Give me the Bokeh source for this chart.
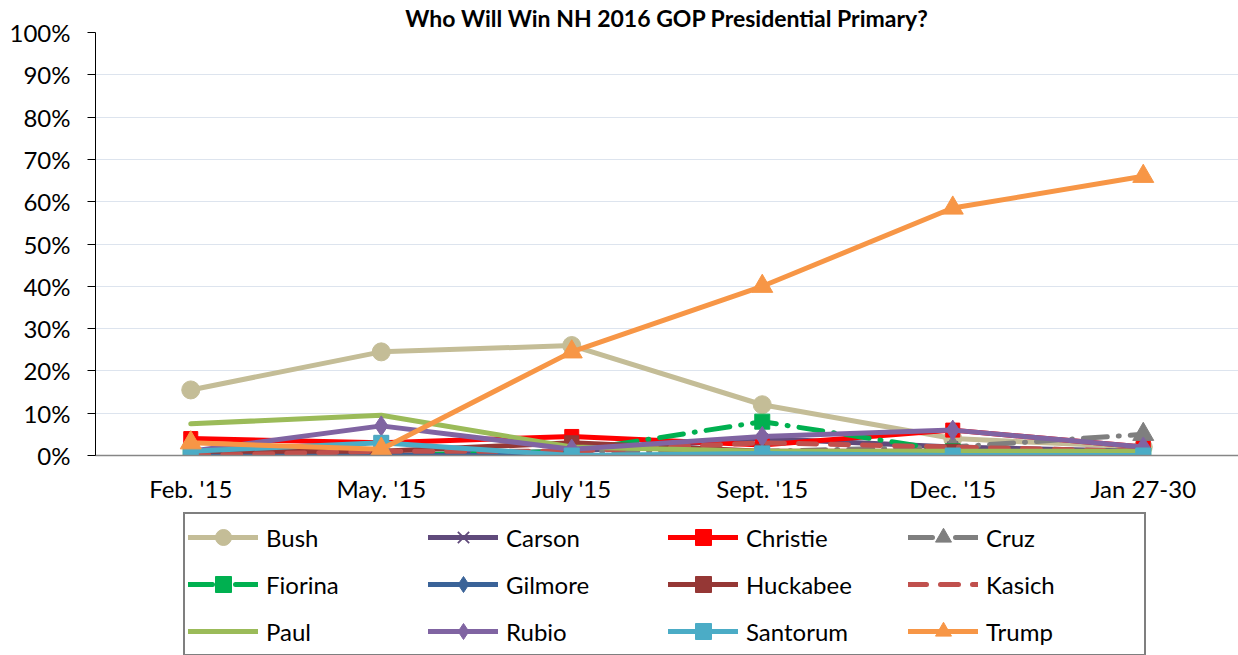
from bokeh.plotting import figure
from bokeh.layouts import column
from bokeh.models import (FactorRange, Range1d, Legend, LegendItem, PrintfTickFormatter,
                          FixedTicker)
from bokeh.embed import file_html
from bokeh.resources import INLINE

categories = ["Feb. '15", "May. '15", "July '15", "Sept. '15", "Dec. '15", "Jan 27-30"]

bush = [15.5, 24.5, 26, 12, 4, 2]
carson = [1, 0, 1, 4, 2, 1]
christie = [4, 3, 4.5, 2.5, 6, 2]
cruz = [0, 0, 1, 1, 2, 5]
fiorina = [0, 0, 1, 8, 1, 0]
gilmore = [0, 0, 0, 0, 0, 0]
huckabee = [1, 1, 3, 1, 1, 0]
kasich = [0, 1, 1, 3, 2, 1]
paul = [7.5, 9.5, 2, 1, 1, 1]
rubio = [1, 7, 1.5, 4.5, 6, 2]
santorum = [1, 3, 0, 0.5, 0, 0]
trump = [3, 1.5, 24.5, 40, 58.5, 66]

y_ticks = list(range(0, 101, 10))

FONT = "Lato"

series = [
    ("Bush", bush, "#C4BD97", "solid", "circle", 18),
    ("Carson", carson, "#604A7B", "solid", "x", 15),
    ("Christie", christie, "#FF0000", "solid", "square", 14),
    ("Cruz", cruz, "#7F7F7F", "24 11 1 11", "triangle", 21),
    ("Fiorina", fiorina, "#00B050", "24 11 1 11", "square", 15),
    ("Gilmore", gilmore, "#3A6398", "solid", "diamond", 20),
    ("Huckabee", huckabee, "#953735", "solid", "square", 14),
    ("Kasich", kasich, "#C0504D", "18 14", None, 0),
    ("Paul", paul, "#9BBB59", "solid", None, 0),
    ("Rubio", rubio, "#8064A2", "solid", "diamond", 20),
    ("Santorum", santorum, "#4BACC6", "solid", "square", 15),
    ("Trump", trump, "#F79646", "solid", "triangle", 21),
]

xr = FactorRange(*categories, range_padding=0)

p = figure(width=1238, height=512, x_range=xr,
           y_range=Range1d(0, 100), output_backend="svg", toolbar_location=None,
           min_border_left=95, min_border_right=0, min_border_top=0, min_border_bottom=57)
p.outline_line_color = None
p.background_fill_color = "white"

p.title.text = "Who Will Win NH 2016 GOP Presidential Primary?"
p.title.align = "center"
p.title.text_font = FONT
p.title.text_font_size = "23px"
p.title.text_font_style = "bold"
p.title.text_color = "black"
p.title.standoff = 2

p.yaxis.ticker = FixedTicker(ticks=y_ticks)
p.yaxis.formatter = PrintfTickFormatter(format="%d%%")
p.yaxis.major_label_text_font = FONT
p.yaxis.major_label_text_font_size = "24px"
p.yaxis.major_label_text_color = "black"
p.yaxis.axis_line_color = "black"
p.yaxis.major_tick_line_color = "black"
p.yaxis.major_tick_in = 0
p.yaxis.major_tick_out = 8
p.yaxis.minor_tick_line_color = None
p.yaxis.major_label_standoff = 17

p.xaxis.major_label_text_font = FONT
p.xaxis.major_label_text_font_size = "24px"
p.xaxis.major_label_text_color = "black"
p.xaxis.axis_line_color = "#868686"
p.xaxis.axis_line_width = 1.5
p.xaxis.major_tick_line_color = None
p.xaxis.major_tick_out = 0
p.xaxis.major_label_standoff = 18

p.xgrid.grid_line_color = None
p.ygrid.grid_line_color = "#DDE4EE"
p.ygrid.grid_line_width = 1

# legend panel below the chart
q = figure(width=1238, height=143, x_range=xr, y_range=Range1d(-10, -5),
           output_backend="svg", toolbar_location=None,
           x_axis_location=None, y_axis_location=None,
           min_border_left=0, min_border_right=0, min_border_top=0, min_border_bottom=0)
q.outline_line_color = None
q.grid.visible = False


def draw(fig, name, vals, color, dash, marker, size):
    rs = [fig.line(categories, vals, line_color=color, line_width=5, line_dash=dash,
                   line_cap="round", line_join="round")]
    if marker is not None:
        if marker == "x":
            rs.append(fig.scatter(categories, vals, marker="x", size=size,
                                  line_color=color, line_width=1.8))
        else:
            rs.append(fig.scatter(categories, vals, marker=marker, size=size,
                                  fill_color=color, line_color=color, line_width=1))
    return rs


items = []
for name, vals, color, dash, marker, size in series:
    draw(p, name, vals, color, dash, marker, size)
    rs = draw(q, name, vals, color, dash, marker, size)
    items.append(LegendItem(label=name, renderers=rs))

legend = Legend(items=items, ncols=4, orientation="horizontal",
                location=(88, -1), label_text_font=FONT, label_text_font_size="24px",
                label_text_color="black", glyph_width=70, glyph_height=40,
                label_height=40, label_width=155, label_standoff=8, spacing=7,
                padding=3, margin=0, border_line_color="black", border_line_width=2,
                background_fill_color="white", background_fill_alpha=1)
q.add_layout(legend, "center")

open("out.html", "w").write(file_html(column(p, q, spacing=0), INLINE))
